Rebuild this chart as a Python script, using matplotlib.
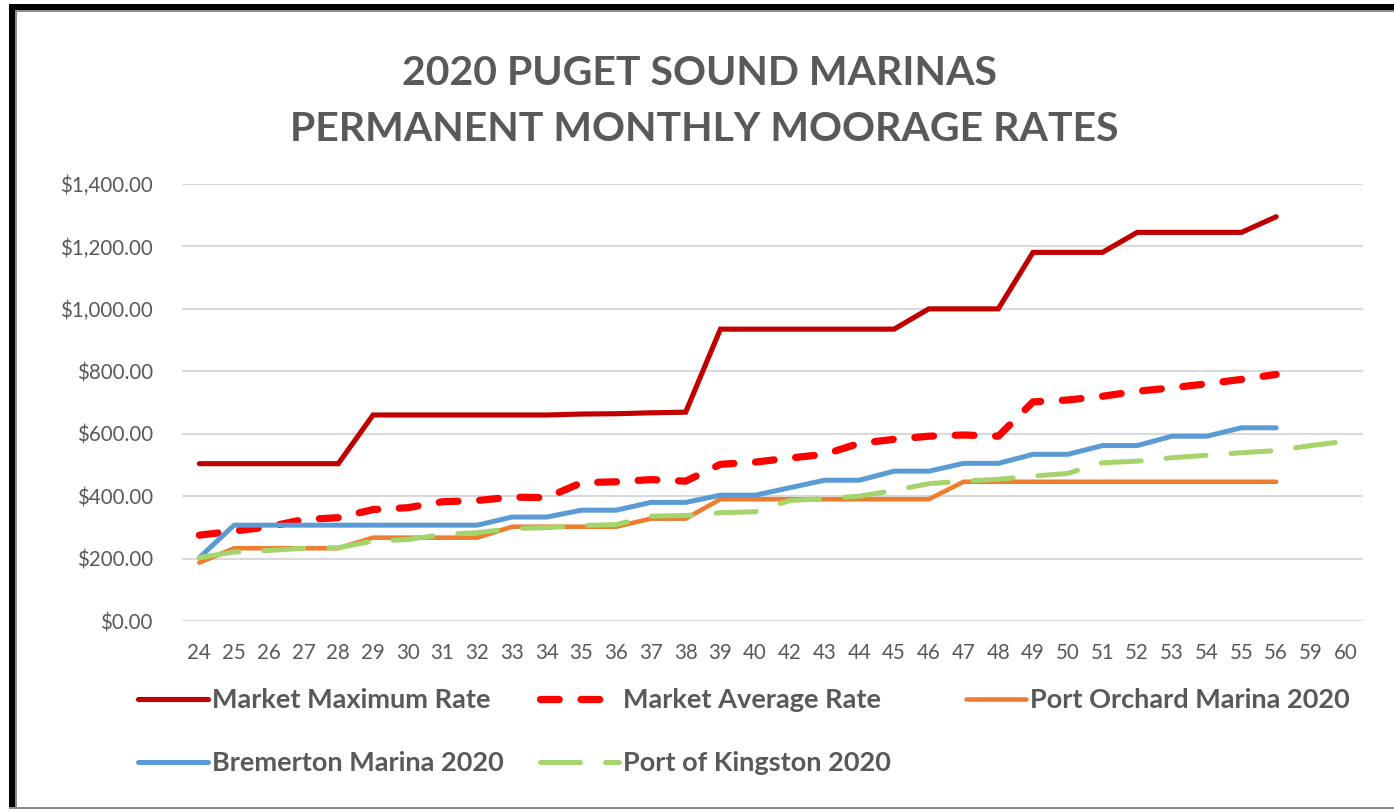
import numpy as np
import matplotlib
matplotlib.use("Agg")
import matplotlib.pyplot as plt
from matplotlib.patches import Rectangle
from matplotlib.ticker import FuncFormatter

nan = np.nan

sizes = ['24', '25', '26', '27', '28', '29', '30', '31', '32', '33', '34', '35',
         '36', '37', '38', '39', '40', '42', '43', '44', '45', '46', '47', '48',
         '49', '50', '51', '52', '53', '54', '55', '56', '59', '60']

market_max = [504, 504, 504, 504, 504, 660, 660, 660, 660, 660, 660, 663,
              664, 667, 669, 935, 935, 935, 935, 935, 935, 1000, 1000, 1000,
              1181, 1181, 1181, 1245, 1245, 1245, 1245, 1295, nan, nan]

market_avg = [275, 288, 302, 325, 331, 357, 363, 382, 386, 397, 395, 443,
              446, 453, 448, 502, 509, 522, 534, 569, 582, 592, 596, 592,
              702, 708, 720, 736, 747, 760, 774, 790, nan, nan]

port_orchard = [187, 233, 233, 233, 233, 267, 267, 267, 267, 302, 302, 302,
                302, 328, 328, 390, 390, 390, 390, 390, 390, 390, 446, 446,
                446, 446, 446, 446, 446, 446, 446, 446, nan, nan]

bremerton = [203, 307, 307, 307, 307, 307, 307, 307, 307, 333, 333, 355,
             355, 380, 380, 403, 403, 427, 451, 451, 480, 480, 505, 505,
             534, 534, 562, 562, 592, 592, 619, 619, nan, nan]

kingston = [203, 221, 226, 233, 235, 256, 261, 277, 283, 296, 299, 306,
            309, 336, 338, 347, 350, 386, 392, 400, 418, 440, 448, 454,
            464, 473, 507, 512, 523, 531, 539, 546, 562, 576]

series_labels = ['Market Maximum Rate', 'Market Average Rate', 'Port Orchard Marina 2020',
                 'Bremerton Marina 2020', 'Port of Kingston 2020']

title_lines = ['2020 PUGET SOUND MARINAS', 'PERMANENT MONTHLY MOORAGE RATES']

W, H = 1394, 811
GRAY = '#595959'
FONT = 'Lato'

fig = plt.figure(figsize=(W / 100, H / 100), dpi=100)
fig.patch.set_facecolor('white')

def fx(px):
    return px / W

def fy(py):
    return 1 - py / H

ax = fig.add_axes([fx(182), fy(621), fx(1363) - fx(182), fy(184) - fy(621)])
x = np.arange(len(sizes))

l_max, = ax.plot(x, market_max, color='#C00000', lw=3.7, solid_capstyle='round',
                 solid_joinstyle='miter', label=series_labels[0], zorder=3)
l_avg, = ax.plot(x, market_avg, color='#FF0000', lw=5.2, dash_capstyle='round',
                 label=series_labels[1], zorder=3)
l_avg.set_dashes((2.6, 3.0))
l_orc, = ax.plot(x, port_orchard, color='#ED7D31', lw=3.3, solid_capstyle='round',
                 label=series_labels[2], zorder=3)
l_brm, = ax.plot(x, bremerton, color='#5B9BD5', lw=3.6, solid_capstyle='round',
                 label=series_labels[3], zorder=3)
l_kng, = ax.plot(x, kingston, color='#A5D46C', lw=3.6, dash_capstyle='round',
                 label=series_labels[4], zorder=3)
l_kng.set_dashes((8, 5))

ax.set_xlim(-0.5, len(sizes) - 0.5)
ax.set_ylim(0, 1400)
ax.set_yticks(np.arange(0, 1401, 200))
ax.yaxis.set_major_formatter(FuncFormatter(lambda v, p: '${:,.2f}'.format(v)))
ax.set_xticks(x)
ax.set_xticklabels(sizes)
ax.grid(axis='y', color='#D9D9D9', lw=1.5, zorder=0)
ax.set_axisbelow(True)
for s in ax.spines.values():
    s.set_visible(False)
ax.tick_params(axis='both', length=0, colors=GRAY, labelsize=14.8)
ax.tick_params(axis='y', pad=21)
ax.tick_params(axis='x', pad=16)
for lab in ax.get_xticklabels() + ax.get_yticklabels():
    lab.set_fontfamily(FONT)

fig.text(0.502, fy(85), title_lines[0], ha='center', va='baseline', fontsize=29.5,
         fontweight='bold', color=GRAY, family=FONT)
fig.text(0.505, fy(141), title_lines[1], ha='center', va='baseline', fontsize=29.5,
         fontweight='bold', color=GRAY, family=FONT)

# legend entries, placed individually
legend_pos = [(l_max, 138, 700, 2.6), (l_avg, 540, 700, 2.9), (l_orc, 966, 700, 2.2),
              (l_brm, 138, 763, 2.6), (l_kng, 540, 763, 2.9)]
for h, px, py, hl in legend_pos:
    lg = fig.legend(handles=[h], loc='center left', bbox_to_anchor=(fx(px), fy(py)),
                    frameon=False, borderpad=0, borderaxespad=0, handlelength=hl,
                    handletextpad=0.15, prop={'family': FONT, 'weight': 'bold', 'size': 19.5})
    for t in lg.get_texts():
        t.set_color(GRAY)

# outer frame (screenshot border)
fig.add_artist(Rectangle((fx(9), fy(808)), fx(6), fy(4) - fy(808), transform=fig.transFigure,
                         facecolor='black', edgecolor='none'))
fig.add_artist(Rectangle((fx(9), fy(10)), 1 - fx(9), fy(4) - fy(10), transform=fig.transFigure,
                         facecolor='black', edgecolor='none'))
fig.add_artist(Rectangle((fx(15), fy(808)), fx(1.5), fy(10) - fy(808), transform=fig.transFigure,
                         facecolor='#8c8c8c', edgecolor='none'))
fig.add_artist(Rectangle((fx(15), fy(11.5)), 1 - fx(15), fy(10) - fy(11.5), transform=fig.transFigure,
                         facecolor='#8c8c8c', edgecolor='none'))
fig.add_artist(Rectangle((fx(9), fy(809)), 1 - fx(9), fy(806.5) - fy(809), transform=fig.transFigure,
                         facecolor='#8c8c8c', edgecolor='none'))

fig.savefig('out.png', dpi=100, facecolor='white')
